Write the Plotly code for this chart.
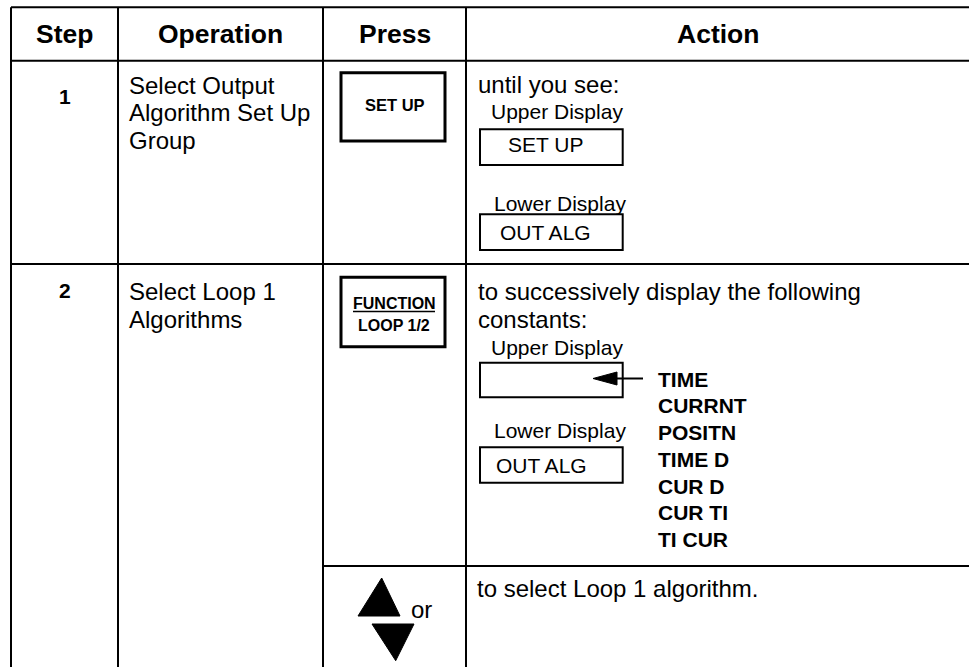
import plotly.graph_objects as go

# ---------------- content (data) ----------------
headers = ["Step", "Operation", "Press", "Action"]
steps = ["1", "2"]
operation_lines = [["Select Output", "Algorithm Set Up", "Group"],
                   ["Select Loop 1", "Algorithms"]]
key_setup = ["SET UP"]
key_function = ["FUNCTION", "LOOP 1/2"]
action_intro = [["until you see:"],
                ["to successively display the following", "constants:"]]
display_labels = ["Upper Display", "Lower Display"]
upper_values = ["SET UP", ""]
lower_values = ["OUT ALG", "OUT ALG"]
constants = ["TIME", "CURRNT", "POSITN", "TIME D", "CUR D", "CUR TI", "TI CUR"]
final_action = "to select Loop 1 algorithm."
or_text = "or"

# ---------------- layout geometry (pixels) ----------------
W, H = 969, 667
FONT = "Liberation Sans, Arial, Helvetica, sans-serif"
col_x = [11, 118, 323, 466, 969]
row_y = [7.3, 60.7, 264, H]
sub_row_y = 566

fig = go.Figure()
shapes = []
annotations = []


def line(x0, y0, x1, y1, w=2):
    shapes.append(dict(type="line", x0=x0, y0=y0, x1=x1, y1=y1, xref="x", yref="y",
                       line=dict(color="black", width=w)))


def rect(x0, y0, x1, y1, w=2):
    shapes.append(dict(type="rect", x0=x0, y0=y0, x1=x1, y1=y1, xref="x", yref="y",
                       line=dict(color="black", width=w), fillcolor="rgba(0,0,0,0)"))


def tri(pts):
    path = "M " + " L ".join(f"{x},{y}" for x, y in pts) + " Z"
    shapes.append(dict(type="path", path=path, xref="x", yref="y",
                       fillcolor="black", line=dict(color="black", width=1)))


def text(x, y, s, size, bold=False, xanchor="left"):
    if bold:
        s = "<b>" + s + "</b>"
    annotations.append(dict(x=x, y=y, text=s, xref="x", yref="y", showarrow=False,
                            xanchor=xanchor, yanchor="middle", align="left",
                            font=dict(family=FONT, size=size, color="black"),
                            borderpad=0))


# table grid
line(col_x[0], row_y[0], W + 5, row_y[0])
line(col_x[0], row_y[1], W + 5, row_y[1])
line(col_x[0], row_y[2], W + 5, row_y[2])
line(col_x[2], sub_row_y, W + 5, sub_row_y)
for cx in col_x[:4]:
    line(cx, row_y[0], cx, H + 5)

# headers
hdr_y = 34
for i, h in enumerate(headers):
    cx = (col_x[i] + col_x[i + 1]) / 2
    text(cx, hdr_y, h, 26.5, bold=True, xanchor="center")

# step numbers
step_y = [96, 290]
for s, y in zip(steps, step_y):
    text((col_x[0] + col_x[1]) / 2, y, s, 21, bold=True, xanchor="center")

# operations
op_y0 = [85, 291.5]
for lines_, y0 in zip(operation_lines, op_y0):
    for k, t in enumerate(lines_):
        text(128, y0 + k * 27.5, t, 24)

# press keys
rect(341, 72.7, 445, 141, w=3)
text(395, 105, key_setup[0], 16.5, bold=True, xanchor="center")
rect(341, 277.3, 445, 346.7, w=3)
text(394, 303.5, key_function[0], 16, bold=True, xanchor="center")
line(353, 311.5, 435, 311.5, w=1.5)
text(394, 325.5, key_function[1], 16, bold=True, xanchor="center")

# action row 1
text(477, 84.5, action_intro[0][0], 24)
text(490, 111, display_labels[0], 21)
rect(480, 129.3, 622.7, 165)
text(506.7, 144, upper_values[0], 21)
text(493, 203, display_labels[1], 21)
rect(480, 214.3, 622.7, 250)
text(499, 232, lower_values[0], 21)

# action row 2
text(477, 291.7, action_intro[1][0], 24)
text(477, 319.2, action_intro[1][1], 24)
text(490, 347, display_labels[0], 21)
rect(480, 362.7, 622.7, 397.3)
# arrow from constants to display
line(612, 378.5, 643, 378.5, w=2)
tri([(593, 378.5), (617, 372), (617, 385)])
for k, c in enumerate(constants):
    text(656.5, 379 + k * 26.75, c, 21, bold=True)
text(493, 430, display_labels[1], 21)
rect(480, 447.3, 622.7, 482.7)
text(495, 465.5, lower_values[1], 21)

# sub row: arrow keys
tri([(381.7, 578), (358, 616), (400, 616)])
tri([(372, 624), (414, 624), (395.7, 660.7)])
text(410, 609, or_text, 24)
text(476, 588.5, final_action, 24)

fig.update_layout(
    width=W, height=H,
    margin=dict(l=0, r=0, t=0, b=0),
    paper_bgcolor="white", plot_bgcolor="white",
    xaxis=dict(range=[0, W], visible=False, fixedrange=True),
    yaxis=dict(range=[H, 0], visible=False, fixedrange=True),
    shapes=shapes, annotations=annotations,
    showlegend=False,
)

fig.write_html(
    "out.html",
    config={"displayModeBar": False},
    post_script="document.body.style.margin='0';document.body.style.overflow='hidden';",
)
